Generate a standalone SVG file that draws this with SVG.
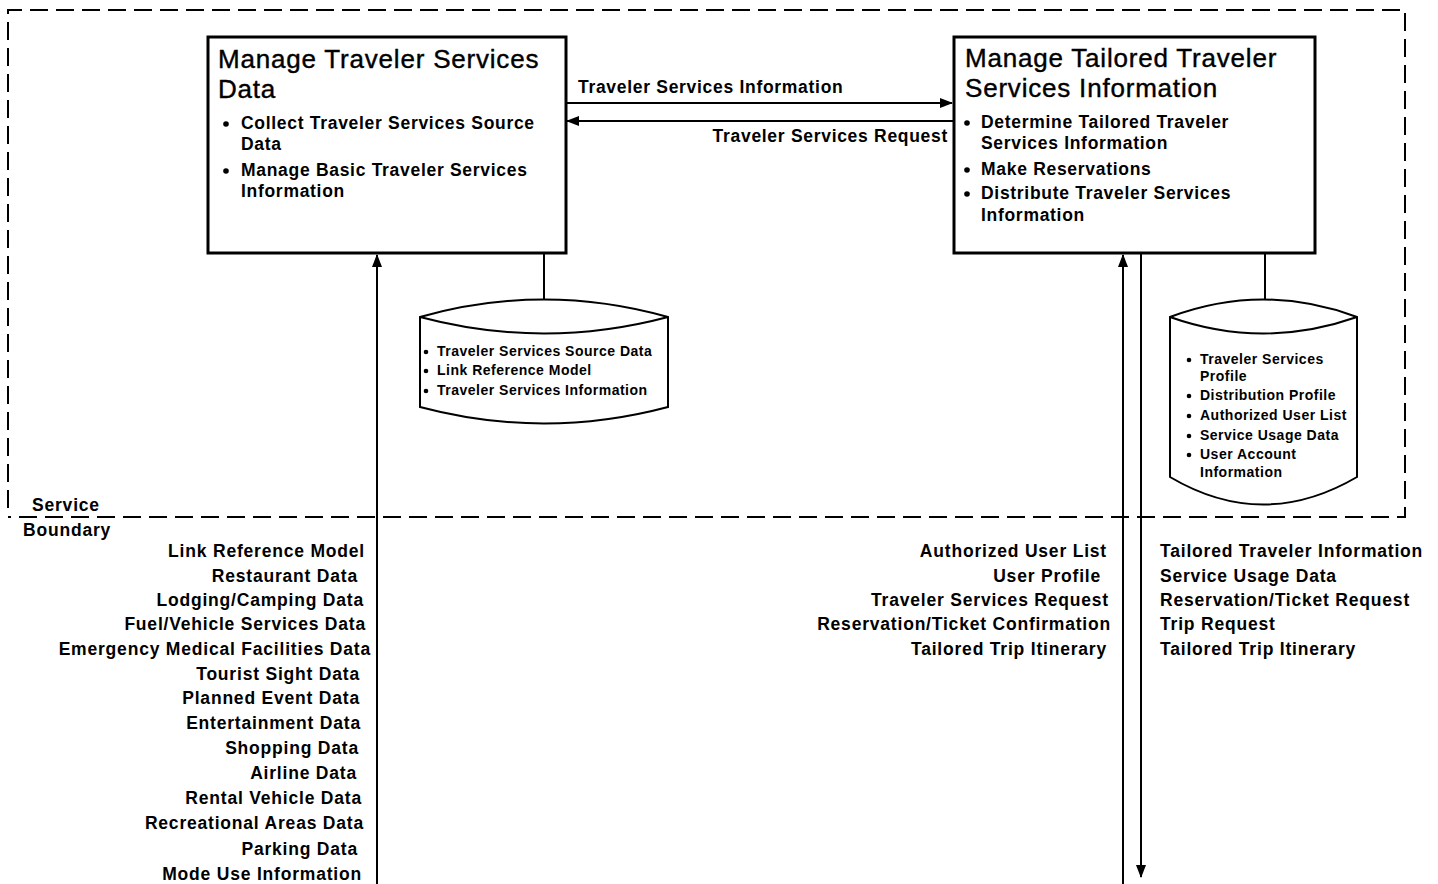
<svg xmlns="http://www.w3.org/2000/svg" width="1438" height="884" viewBox="0 0 1438 884">
<style>
text{font-family:"Liberation Sans",Arial,sans-serif;fill:#000}
.t{font-size:26px;letter-spacing:0.8px;stroke:#000;stroke-width:0.4px}
.b{font-size:17.5px;font-weight:bold;letter-spacing:0.7px}
.s{font-size:14px;font-weight:bold;letter-spacing:0.5px}
.l{font-size:17.5px;font-weight:bold;letter-spacing:0.8px}
.e{text-anchor:end}
.box{fill:#fff;stroke:#000;stroke-width:3}
.cyl{fill:#fff;stroke:#000;stroke-width:2}
.ln{stroke:#000;stroke-width:2;fill:none}
.dash{stroke:#000;stroke-width:2;fill:none;stroke-dasharray:18 8}
</style>
<defs>
<marker id="ah" markerWidth="13" markerHeight="10" refX="12" refY="5" orient="auto" markerUnits="userSpaceOnUse">
<path d="M0,0 L13,5 L0,10 Z" fill="#000"/>
</marker>
</defs>
<rect width="1438" height="884" fill="#fff"/>
<g id="boundary">
<path class="dash" d="M8,508 L8,10 L1405,10 L1405,517 L8,517"/>
<text class="l" x="32" y="511">Service</text>
<text class="l" x="23" y="536">Boundary</text>
</g>
<g id="connectors">
<line class="ln" x1="566" y1="103" x2="952" y2="103" marker-end="url(#ah)"/>
<line class="ln" x1="953" y1="121" x2="567" y2="121" marker-end="url(#ah)"/>
<line class="ln" x1="544" y1="253" x2="544" y2="324"/>
<line class="ln" x1="1265" y1="253" x2="1265" y2="324"/>
<line class="ln" x1="377" y1="884" x2="377" y2="255" marker-end="url(#ah)"/>
<line class="ln" x1="1123" y1="884" x2="1123" y2="255" marker-end="url(#ah)"/>
<line class="ln" x1="1141" y1="253" x2="1141" y2="877" marker-end="url(#ah)"/>
<text class="b" x="578" y="93">Traveler Services Information</text>
<text class="b e" x="948" y="142">Traveler Services Request</text>
</g>
<g id="node-left">
<rect class="box" x="208" y="37" width="358" height="216"/>
<text class="t" x="218" y="68">Manage Traveler Services</text>
<text class="t" x="218" y="98">Data</text>
<circle cx="226" cy="124" r="2.8"/>
<text class="b" x="241" y="129">Collect Traveler Services Source</text>
<text class="b" x="241" y="150">Data</text>
<circle cx="226" cy="171" r="2.8"/>
<text class="b" x="241" y="176">Manage Basic Traveler Services</text>
<text class="b" x="241" y="197">Information</text>
</g>
<g id="node-right">
<rect class="box" x="954" y="37" width="361" height="216"/>
<text class="t" x="965" y="67">Manage Tailored Traveler</text>
<text class="t" x="965" y="97">Services Information</text>
<circle cx="967" cy="123" r="2.8"/>
<text class="b" x="981" y="128">Determine Tailored Traveler</text>
<text class="b" x="981" y="149">Services Information</text>
<circle cx="967" cy="170" r="2.8"/>
<text class="b" x="981" y="175">Make Reservations</text>
<circle cx="967" cy="194" r="2.8"/>
<text class="b" x="981" y="199">Distribute Traveler Services</text>
<text class="b" x="981" y="221">Information</text>
</g>
<g id="store-left">
<path class="cyl" d="M420,317 Q544,282 668,317 L668,407 Q544,440 420,407 Z"/>
<path class="cyl" d="M420,317 Q544,350 668,317"/>
<circle cx="426" cy="352" r="2.3"/>
<text class="s" x="437" y="356">Traveler Services Source Data</text>
<circle cx="426" cy="371" r="2.3"/>
<text class="s" x="437" y="375">Link Reference Model</text>
<circle cx="426" cy="391" r="2.3"/>
<text class="s" x="437" y="395">Traveler Services Information</text>
</g>
<g id="store-right">
<path class="cyl" d="M1170,317 Q1263,282 1357,317 L1357,477 Q1263,532 1170,477 Z"/>
<path class="cyl" d="M1170,317 Q1263,350 1357,317"/>
<circle cx="1189" cy="360" r="2.3"/>
<text class="s" x="1200" y="364">Traveler Services</text>
<text class="s" x="1200" y="381">Profile</text>
<circle cx="1189" cy="396" r="2.3"/>
<text class="s" x="1200" y="400">Distribution Profile</text>
<circle cx="1189" cy="416" r="2.3"/>
<text class="s" x="1200" y="420">Authorized User List</text>
<circle cx="1189" cy="436" r="2.3"/>
<text class="s" x="1200" y="440">Service Usage Data</text>
<circle cx="1189" cy="455" r="2.3"/>
<text class="s" x="1200" y="459">User Account</text>
<text class="s" x="1200" y="477">Information</text>
</g>
<g id="flows-left">
<text class="l e" x="365" y="557">Link Reference Model</text>
<text class="l e" x="358" y="582">Restaurant Data</text>
<text class="l e" x="364" y="606">Lodging/Camping Data</text>
<text class="l e" x="366" y="630">Fuel/Vehicle Services Data</text>
<text class="l e" x="371" y="655">Emergency Medical Facilities Data</text>
<text class="l e" x="360" y="680">Tourist Sight Data</text>
<text class="l e" x="360" y="704">Planned Event Data</text>
<text class="l e" x="361" y="729">Entertainment Data</text>
<text class="l e" x="359" y="754">Shopping Data</text>
<text class="l e" x="357" y="779">Airline Data</text>
<text class="l e" x="362" y="804">Rental Vehicle Data</text>
<text class="l e" x="364" y="829">Recreational Areas Data</text>
<text class="l e" x="358" y="855">Parking Data</text>
<text class="l e" x="362" y="880">Mode Use Information</text>
</g>
<g id="flows-right-in">
<text class="l e" x="1107" y="557">Authorized User List</text>
<text class="l e" x="1101" y="582">User Profile</text>
<text class="l e" x="1109" y="606">Traveler Services Request</text>
<text class="l e" x="1111" y="630">Reservation/Ticket Confirmation</text>
<text class="l e" x="1107" y="655">Tailored Trip Itinerary</text>
</g>
<g id="flows-right-out">
<text class="l" x="1160" y="557">Tailored Traveler Information</text>
<text class="l" x="1160" y="582">Service Usage Data</text>
<text class="l" x="1160" y="606">Reservation/Ticket Request</text>
<text class="l" x="1160" y="630">Trip Request</text>
<text class="l" x="1160" y="655">Tailored Trip Itinerary</text>
</g>
</svg>
